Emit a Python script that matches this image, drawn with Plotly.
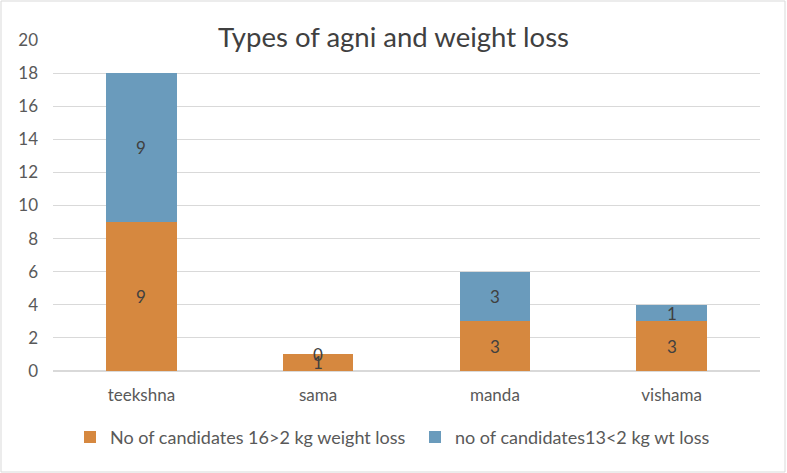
import plotly.graph_objects as go

categories = ["teekshna", "sama", "manda", "vishama"]
series_a_name = "No of candidates 16>2 kg weight loss"
series_b_name = "no of candidates13<2 kg wt loss"
series_a = [9, 1, 3, 3]
series_b = [9, 0, 3, 1]
y_ticks = [0, 2, 4, 6, 8, 10, 12, 14, 16, 18, 20]

orange = "#D6883F"
blue = "#6A9BBC"
font_fam = "Lato, 'Open Sans', sans-serif"
txt_col = "#595959"

fig = go.Figure()
fig.add_trace(go.Bar(x=categories, y=series_a, name=series_a_name,
                     marker=dict(color=orange, line=dict(width=0)), width=0.4))
fig.add_trace(go.Bar(x=categories, y=series_b, name=series_b_name,
                     marker=dict(color=blue, line=dict(width=0)), width=0.4))

annotations = []
for c, a, b in zip(categories, series_a, series_b):
    annotations.append(dict(x=c, y=a / 2, text=str(a), showarrow=False,
                            font=dict(size=17, color="#404040", family=font_fam)))
    annotations.append(dict(x=c, y=a + b / 2, text=str(b), showarrow=False,
                            font=dict(size=17, color="#404040", family=font_fam)))

fig.update_layout(
    barmode="stack",
    width=787, height=473,
    margin=dict(l=53, r=27, t=40, b=102),
    paper_bgcolor="white", plot_bgcolor="white",
    font=dict(family=font_fam, color=txt_col, size=17),
    title=dict(text="Types of agni and weight loss", x=0.5, xanchor="center",
               y=1 - 37 / 473, yanchor="middle",
               font=dict(size=27.5, color="#404040", family=font_fam)),
    xaxis=dict(showline=False, ticks="", tickfont=dict(size=17, color=txt_col),
               ticklabelstandoff=12),
    yaxis=dict(range=[0, 20], tickvals=y_ticks, showgrid=True, gridcolor="#D9D9D9",
               gridwidth=1, zeroline=True, zerolinecolor="#D9D9D9",
               tickfont=dict(size=17, color=txt_col), ticklabelstandoff=14),
    legend=dict(orientation="h", x=(70 - 53) / 707, xanchor="left", y=-0.2, yanchor="middle",
                font=dict(size=18, color=txt_col), traceorder="normal",
                itemwidth=30, entrywidth=300, entrywidthmode="pixels"),
    annotations=annotations,
    shapes=[dict(type="rect", xref="paper", yref="paper",
                 x0=-52 / 707, x1=1 + 25 / 707, y0=-101 / 331, y1=1 + 39 / 331,
                 line=dict(color="#D9D9D9", width=1), fillcolor="rgba(0,0,0,0)", layer="below")],
)
fig.write_html("out.html", config={"displayModeBar": False},
               post_script="document.body.style.margin='0';")
